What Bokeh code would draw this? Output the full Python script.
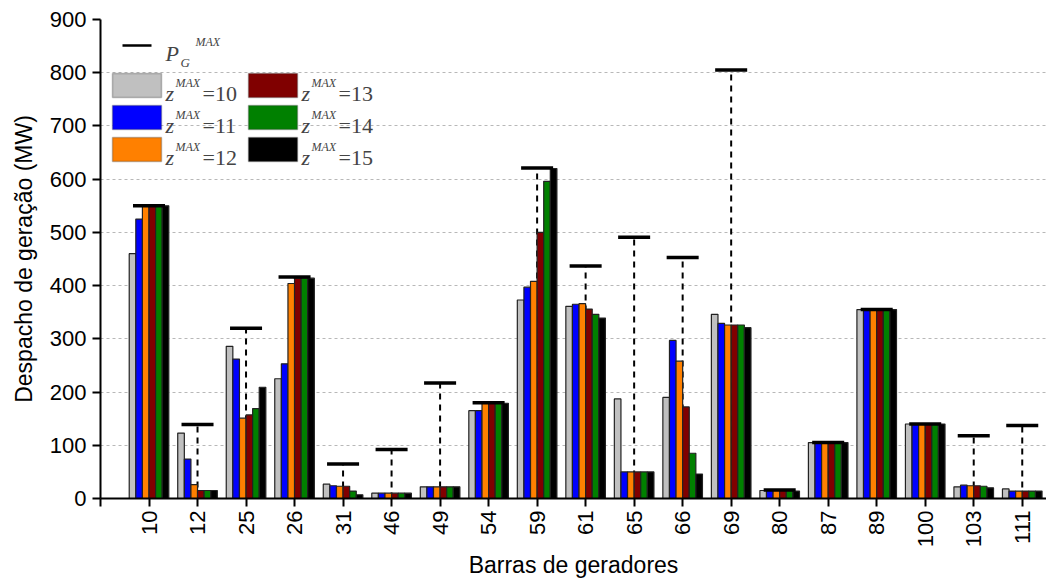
import numpy as np
from bokeh.plotting import figure
from bokeh.models import Range1d, FixedTicker, Label, BoxAnnotation, ColumnDataSource
from bokeh.embed import file_html
from bokeh.resources import INLINE

# ---------------- data ----------------
categories = ["10", "12", "25", "26", "31", "46", "49", "54", "59", "61",
              "65", "66", "69", "80", "87", "89", "100", "103", "111"]
z10 = [460, 123, 286, 225, 27, 10, 22, 165, 373, 361, 187, 190, 346, 15, 105, 355, 140, 22, 18]
z11 = [525, 74, 262, 253, 24, 10, 22, 165, 397, 365, 50, 297, 329, 15, 105, 355, 140, 25, 14]
z12 = [550, 26, 151, 404, 23, 10, 22, 179, 408, 366, 50, 258, 326, 15, 105, 355, 140, 24, 14]
z13 = [550, 15, 157, 414, 23, 10, 22, 179, 500, 356, 50, 172, 326, 15, 105, 355, 140, 24, 14]
z14 = [550, 15, 169, 414, 14, 10, 22, 179, 596, 346, 50, 85, 326, 15, 105, 355, 140, 23, 14]
z15 = [550, 15, 209, 414, 7, 10, 22, 179, 620, 339, 50, 46, 321, 14, 105, 355, 140, 20, 14]
pg_max = [550, 139, 320, 416, 65, 92, 217, 180, 621, 437, 491, 453, 805, 16, 105, 355, 140, 118, 137]
series_labels = ["10", "11", "12", "13", "14", "15"]
series = [z10, z11, z12, z13, z14, z15]
colors = ["#c0c0c0", "#0000ff", "#ff8000", "#800000", "#008000", "#000000"]
y_ticks = list(range(0, 1000, 100))

# ---------------- figure ----------------
W, H = 1046, 581
p = figure(width=W, height=H, output_backend="svg", toolbar_location=None,
           x_range=Range1d(-1, 18.5), y_range=Range1d(0, 900),
           min_border_left=100, min_border_top=19, min_border_bottom=83,
           min_border_right=0)
p.outline_line_color = None
p.background_fill_color = "white"
p.border_fill_color = "white"

idx = np.arange(len(categories))
bw = 0.136

# vertical dashed lines for P_G^MAX (behind bars)
src_p = ColumnDataSource(dict(x=idx, y0=np.zeros(len(idx)), y1=pg_max,
                              xl=idx - 0.33, xr=idx + 0.33))
p.segment(x0="x", y0="y0", x1="x", y1="y1", source=src_p,
          line_color="black", line_width=2, line_dash="6 5")

for i, (vals, col) in enumerate(zip(series, colors)):
    p.vbar(x=idx + (i - 2.5) * bw, top=vals, width=bw, bottom=0,
           fill_color=col, line_color="#222222", line_width=1.2)

# caps
p.segment(x0="xl", y0="y1", x1="xr", y1="y1", source=src_p,
          line_color="black", line_width=3.5)

# ---------------- axes ----------------
p.xgrid.visible = False
p.ygrid.ticker = FixedTicker(ticks=[100, 200, 300, 400, 500, 600, 700, 800])
p.ygrid.grid_line_color = "#b8b8b8"
p.ygrid.grid_line_dash = "3 3"
p.ygrid.grid_line_width = 1

p.xaxis.ticker = FixedTicker(ticks=[-1] + list(idx))
overrides = {int(i): c for i, c in zip(idx, categories)}
overrides[-1] = ""
p.xaxis.major_label_overrides = overrides
p.xaxis.major_label_orientation = np.pi / 2
p.xaxis.axis_label = "Barras de geradores"

p.yaxis.ticker = FixedTicker(ticks=y_ticks)
p.yaxis.axis_label = "Despacho de geração (MW)"

for ax in (p.xaxis[0], p.yaxis[0]):
    ax.axis_line_width = 2
    ax.axis_line_color = "black"
    ax.major_tick_line_width = 2
    ax.major_tick_line_color = "black"
    ax.major_tick_out = 8
    ax.major_tick_in = 0
    ax.minor_tick_line_color = None
    ax.major_label_text_font = "Liberation Sans"
    ax.major_label_text_font_size = "22px"
    ax.major_label_text_color = "black"
    ax.axis_label_text_font = "Liberation Sans"
    ax.axis_label_text_font_size = "23px"
    ax.axis_label_text_font_style = "normal"
    ax.axis_label_text_color = "black"
p.xaxis.major_label_standoff = 4
p.yaxis.major_label_standoff = 6
p.xaxis.axis_label_standoff = 2
p.yaxis.axis_label_standoff = 10

# ---------------- manual legend (pixel layout -> data coords) ----------------
FX0, FX1, FY0, FY1 = 100.0, 1046.0, 19.0, 498.0
def dx(px):
    return -1 + (px - FX0) / (FX1 - FX0) * 19.5
def dy(py):
    return (FY1 - py) / (FY1 - FY0) * 900

serif = "Liberation Serif"
# P_G^MAX line entry
p.add_layout(BoxAnnotation(left=dx(122), right=dx(151), bottom=dy(46.2), top=dy(43.8),
                           fill_color="black", fill_alpha=1, line_color=None))
p.add_layout(Label(x=dx(165), y=dy(53), text="P", text_font=serif, text_font_style="italic",
                   text_font_size="22px", text_baseline="alphabetic"))
p.add_layout(Label(x=dx(180), y=dy(62), text="G", text_font=serif, text_font_style="italic",
                   text_font_size="13px", text_baseline="alphabetic"))
p.add_layout(Label(x=dx(195), y=dy(41), text="MAX", text_font=serif, text_font_style="italic",
                   text_font_size="12px", text_baseline="alphabetic"))

box_cols = [112, 248]
text_cols = [165, 301]
row_top = [73, 105, 137]
for k, (lab, col) in enumerate(zip(series_labels, colors)):
    c, r = divmod(k, 3)
    bx, ty = box_cols[c], row_top[r]
    p.add_layout(BoxAnnotation(left=dx(bx), right=dx(bx + 49), top=dy(ty), bottom=dy(ty + 24),
                               fill_color=col, fill_alpha=1, line_color="#333333", line_width=1.5))
    tx = text_cols[c]
    base = ty + 20
    p.add_layout(Label(x=dx(tx), y=dy(base), text="z", text_font=serif, text_font_style="italic",
                       text_font_size="22px", text_baseline="alphabetic"))
    p.add_layout(Label(x=dx(tx + 10), y=dy(base - 11), text="MAX", text_font=serif,
                       text_font_style="italic", text_font_size="12px", text_baseline="alphabetic"))
    p.add_layout(Label(x=dx(tx + 37), y=dy(base), text="=" + lab, text_font=serif,
                       text_font_size="22px", text_baseline="alphabetic"))

html = file_html(p, INLINE)
html = html.replace("<body>", '<body style="margin:0;padding:0;">')
open("out.html", "w").write(html)
